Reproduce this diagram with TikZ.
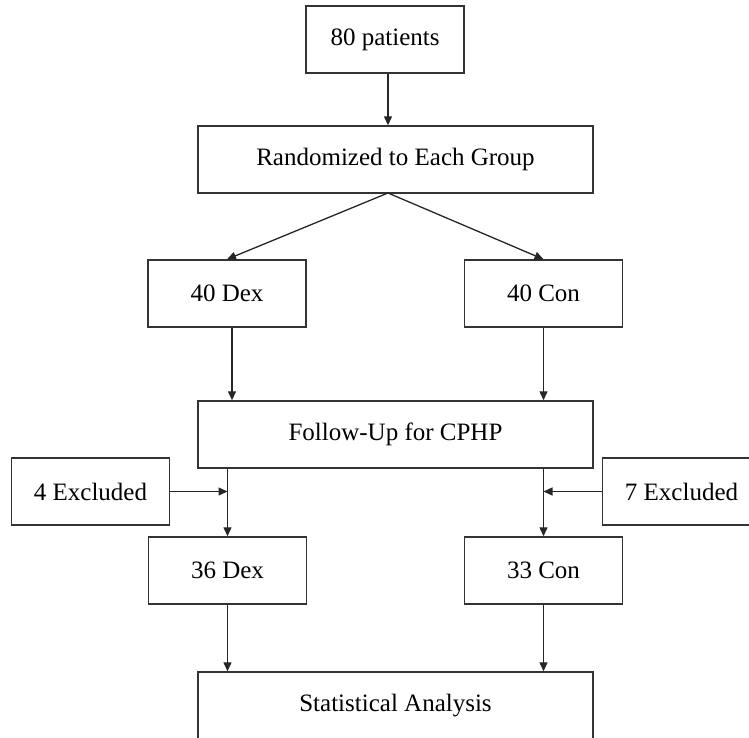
\documentclass[tikz,border=0pt]{standalone}
\usepackage{fontspec}
\setmainfont{Liberation Serif}
\usetikzlibrary{arrows.meta,calc}
\begin{document}
\begin{tikzpicture}[x=1pt,y=-1pt,
  box/.style={draw=black!80, line width=1.4pt, rectangle, minimum height=67pt, inner sep=0pt,
    font=\fontsize{25}{29}\selectfont},
  narrow/.style={box, minimum width=158pt},
  wide/.style={box, minimum width=395pt},
  arr/.style={draw=black!85, line width=1.3pt, -{Triangle[length=9pt,width=8pt]}}]
\useasboundingbox (0,0) rectangle (749,738);
\clip (0,0) rectangle (749,738);
\node[narrow] (p80) at (385,39.5) {80 patients};
\node[wide] (rand) at (395.5,159.5) {Randomized to Each Group};
\node[narrow] (dex40) at (227,293.5) {40 Dex};
\node[narrow] (con40) at (543.5,293.5) {40 Con};
\node[wide] (fu) at (395.5,434.5) {Follow-Up for CPHP};
\node[narrow] (ex4) at (90.5,491.5) {4 Excluded};
\node[narrow] (ex7) at (681.5,491.5) {7 Excluded};
\node[narrow] (dex36) at (227.5,570.5) {36 Dex};
\node[narrow] (con33) at (543.5,570.5) {33 Con};
\node[wide] (stat) at (395.5,705.5) {Statistical Analysis};
\coordinate (split) at (388,193);
\coordinate (xa) at (232,0);
\draw[arr] (p80.south -| split) -- (rand.north -| split);
\draw[arr] (split) -- (dex40.north);
\draw[arr] (split) -- (con40.north);
\draw[arr] (dex40.south -| xa) -- (fu.north -| xa);
\draw[arr] (con40.south) -- (fu.north -| con40.south);
\draw[arr] (fu.south -| dex36.north) -- (dex36.north);
\draw[arr] (fu.south -| con33.north) -- (con33.north);
\draw[arr] (ex4.east) -- (ex4.east -| dex36.north);
\draw[arr] (ex7.west) -- (ex7.west -| con33.north);
\draw[arr] (dex36.south) -- (dex36.south |- stat.north);
\draw[arr] (con33.south) -- (con33.south |- stat.north);
\end{tikzpicture}
\end{document}
